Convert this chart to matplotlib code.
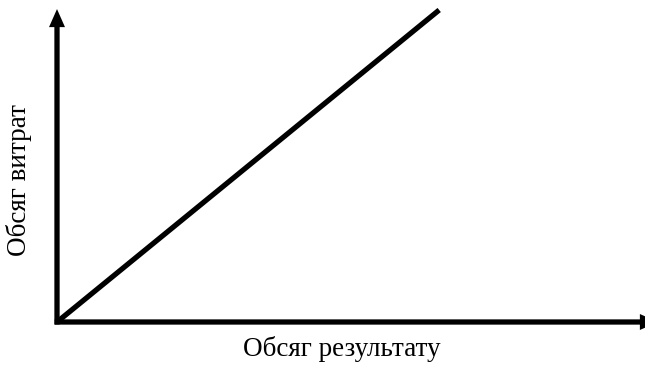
import matplotlib
matplotlib.use("Agg")
from matplotlib import pyplot as plt

# Data: cost volume grows linearly with the result volume
result_volume = [0, 65]
cost_volume = [0, 100]
x_label = "Обсяг результату"
y_label = "Обсяг витрат"

plt.rcParams["font.family"] = ["Liberation Serif", "DejaVu Serif"]

fig = plt.figure(figsize=(6.45, 3.65), dpi=100)
ax = fig.add_axes([57 / 645, 43 / 365, 588 / 645, 312 / 365])
ax.set_xlim(0, 100)
ax.set_ylim(0, 100)
ax.axis("off")

# Axes drawn as filled arrows (sizes in points)
arrow = dict(width=3.8, headwidth=11.5, headlength=13, facecolor="black",
             edgecolor="none", shrink=0)
ax.annotate("", xy=(0, 1.003), xytext=(0, -0.008), xycoords="axes fraction", arrowprops=arrow)
ax.annotate("", xy=(1.022, 0), xytext=(-0.004, 0), xycoords="axes fraction", arrowprops=arrow,
            annotation_clip=False)

# Line
ax.plot(result_volume, cost_volume, color="black", lw=3.8, clip_on=False, solid_capstyle="butt")

fig.text(342 / 645, 16 / 365, x_label, ha="center", va="center", fontsize=19.5)
fig.text(19 / 645, 185 / 365, y_label, ha="center", va="center", rotation=90, fontsize=19.5)

fig.savefig("out.png", dpi=100)
